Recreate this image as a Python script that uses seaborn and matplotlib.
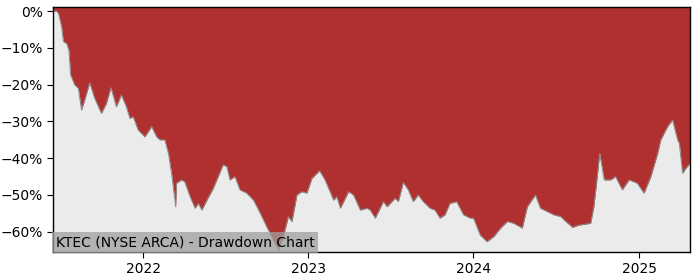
import matplotlib
matplotlib.use("Agg")
import matplotlib.pyplot as plt
import matplotlib.dates as mdates
from matplotlib.ticker import FuncFormatter
import seaborn as sns
import pandas as pd

dates = [
    "2021-06-16", "2021-06-24", "2021-06-28", "2021-07-05", "2021-07-09", "2021-07-16",
    "2021-07-21", "2021-07-25", "2021-08-03", "2021-08-11", "2021-08-18", "2021-08-25",
    "2021-09-05", "2021-09-16", "2021-10-01", "2021-10-12", "2021-10-22", "2021-11-03",
    "2021-11-14", "2021-11-25", "2021-12-03", "2021-12-10", "2021-12-21", "2022-01-05",
    "2022-01-20", "2022-01-31", "2022-02-07", "2022-02-18", "2022-02-26", "2022-03-05",
    "2022-03-14", "2022-03-16", "2022-03-27", "2022-04-03", "2022-04-15", "2022-04-26",
    "2022-05-03", "2022-05-11", "2022-05-22", "2022-06-05", "2022-06-16", "2022-06-27",
    "2022-07-05", "2022-07-12", "2022-07-23", "2022-08-03", "2022-08-18", "2022-09-02",
    "2022-09-17", "2022-10-01", "2022-10-16", "2022-10-27", "2022-11-07", "2022-11-18",
    "2022-11-26", "2022-12-07", "2022-12-18", "2022-12-29", "2023-01-09", "2023-01-26",
    "2023-02-07", "2023-02-26", "2023-03-05", "2023-03-13", "2023-03-31", "2023-04-11",
    "2023-04-26", "2023-05-11", "2023-05-18", "2023-05-29", "2023-06-16", "2023-06-24",
    "2023-07-12", "2023-07-19", "2023-07-30", "2023-08-10", "2023-08-21", "2023-09-01",
    "2023-09-12", "2023-09-27", "2023-10-08", "2023-10-19", "2023-10-30", "2023-11-10",
    "2023-11-25", "2023-12-10", "2023-12-25", "2024-01-01", "2024-01-16", "2024-01-31",
    "2024-02-15", "2024-03-01", "2024-03-16", "2024-03-30", "2024-04-18", "2024-04-29",
    "2024-05-17", "2024-05-28", "2024-06-12", "2024-06-27", "2024-07-12", "2024-07-23",
    "2024-08-07", "2024-08-21", "2024-09-16", "2024-09-23", "2024-09-29", "2024-10-06",
    "2024-10-16", "2024-10-30", "2024-11-10", "2024-11-25", "2024-12-10", "2024-12-28",
    "2025-01-12", "2025-01-27", "2025-02-11", "2025-02-18", "2025-03-05", "2025-03-16",
    "2025-03-27", "2025-03-31", "2025-04-07", "2025-04-14", "2025-04-24",
]
drawdown = [
    0.0, 0.0, -0.6, -4.3, -8.3, -8.8,
    -10.6, -17.4, -20.1, -21.0, -26.9, -24.2,
    -19.5, -23.7, -27.8, -25.1, -20.8, -26.0,
    -22.8, -26.0, -29.2, -28.7, -32.3, -34.2,
    -31.4, -34.2, -35.0, -35.0, -38.7, -44.1,
    -53.2, -46.8, -45.9, -46.4, -50.5, -53.6,
    -52.3, -54.1, -51.4, -48.2, -45.0, -41.8,
    -42.3, -45.9, -45.0, -48.6, -49.5, -51.4,
    -55.0, -58.6, -62.2, -65.0, -61.3, -55.9,
    -57.2, -50.0, -49.1, -49.5, -45.5, -43.4,
    -45.9, -51.4, -50.5, -53.6, -49.1, -50.0,
    -54.1, -53.6, -54.1, -56.3, -51.8, -53.2,
    -50.9, -51.8, -46.6, -48.6, -51.8, -50.0,
    -51.8, -53.6, -54.1, -56.3, -55.4, -52.3,
    -51.8, -55.4, -56.3, -56.3, -60.9, -62.7,
    -61.3, -59.0, -57.2, -57.7, -59.0, -53.2,
    -50.0, -53.6, -54.5, -55.4, -55.9, -57.2,
    -58.8, -58.2, -57.7, -53.2, -46.8, -38.7,
    -45.9, -45.9, -45.0, -48.6, -45.9, -46.8,
    -49.5, -45.0, -38.7, -35.0, -31.4, -29.6,
    -35.0, -36.0, -44.1, -42.8, -41.4,
]
title_text = "KTEC (NYSE ARCA) - Drawdown Chart"
yticks = [0, -10, -20, -30, -40, -50, -60]

df = pd.DataFrame({"date": pd.to_datetime(dates), "dd": drawdown})

sns.set_style("white")
fig = plt.figure(figsize=(7, 2.8), dpi=100)
ax = fig.add_axes([0.0757, 0.1, 0.9103, 0.875])
ax.set_facecolor("#ebebeb")

y_lo, y_hi = -65.5, 1.1
ax.fill_between(df["date"], df["dd"], y_hi, color="#b03030", linewidth=0)
sns.lineplot(data=df, x="date", y="dd", ax=ax, color="#8a8a8a", linewidth=0.7)

ax.set_xlim(df["date"].min(), df["date"].max())
ax.set_ylim(y_lo, y_hi)
ax.set_yticks(yticks)
ax.yaxis.set_major_formatter(FuncFormatter(lambda v, p: f"{int(v)}%".replace("-", "\u2212")))
ax.xaxis.set_major_locator(mdates.YearLocator())
ax.xaxis.set_major_formatter(mdates.DateFormatter("%Y"))
ax.set_xlabel("")
ax.set_ylabel("")
ax.tick_params(axis="both", labelsize=10, length=4, width=0.8, direction="out",
               left=True, bottom=True, colors="black")
for s in ax.spines.values():
    s.set_visible(True)
    s.set_color("black")
    s.set_linewidth(1.0)

ax.text(0.004, 0.01, title_text, transform=ax.transAxes, ha="left", va="bottom",
        fontsize=10, color="black",
        bbox=dict(facecolor="#a0a0a0", alpha=0.75, edgecolor="none", pad=2.5))

fig.savefig("out.png", dpi=100)
